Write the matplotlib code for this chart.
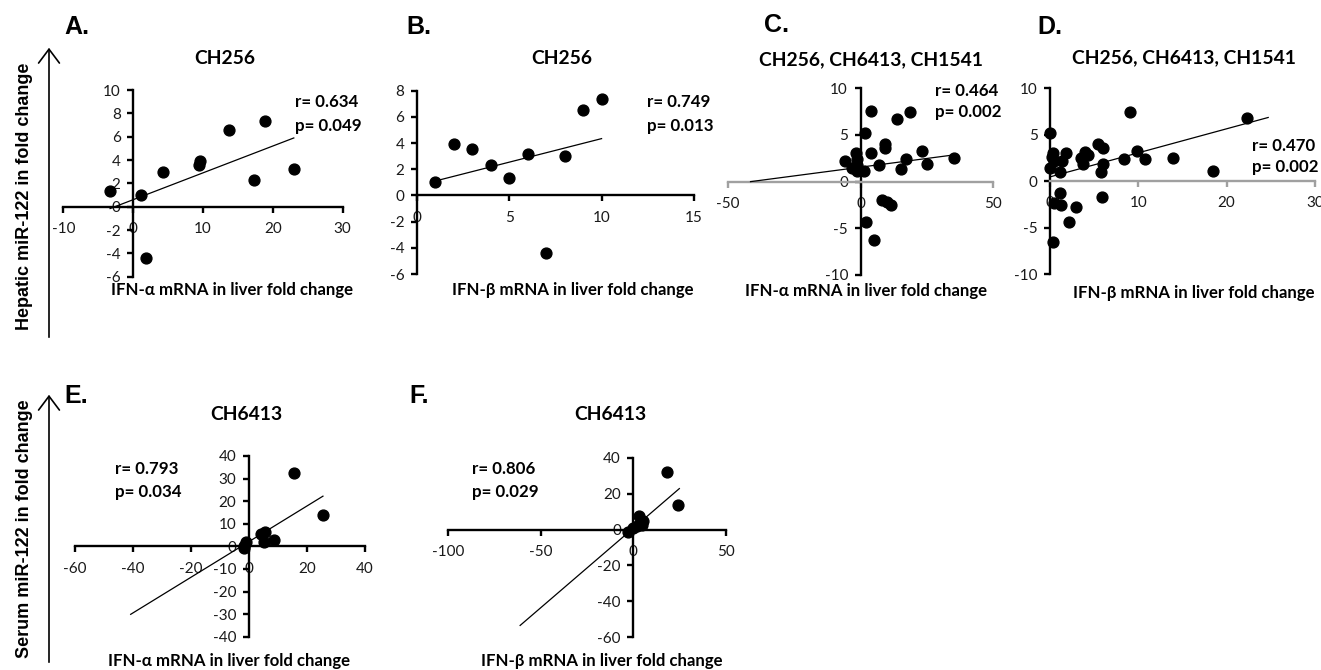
import matplotlib
matplotlib.use("Agg")
import matplotlib.pyplot as plt
import numpy as np

plt.rcParams['axes.unicode_minus'] = False

W, H = 1321, 670

# ---------------- data ----------------
# Panel A: CH256, IFN-alpha vs hepatic miR-122
a_x = [-3.3, 1.1, 1.8, 4.3, 9.4, 9.5, 13.7, 17.3, 18.9, 23.0]
a_y = [1.32, 1.0, -4.37, 3.0, 3.56, 3.9, 6.56, 2.3, 7.38, 3.2]
# Panel B: CH256, IFN-beta vs hepatic miR-122
b_x = [1, 2, 3, 4, 5, 6, 7, 8, 9, 10]
b_y = [1.0, 3.9, 3.56, 2.3, 1.32, 3.2, -4.37, 3.0, 6.56, 7.38]
# Panel C: CH256, CH6413, CH1541, IFN-alpha vs hepatic miR-122
c_x = [3.8, 13.6, 18.8, 1.6, 9.4, 9.4, 4.1, -1.6, -6.0, -1.5, -1.4, 23.2, 17.3,
       35.1, 25.1, 15.3, 7.0, -3.1, -1.3, 1.3, 8.2, 9.8, 11.5, 1.9, 5.0]
c_y = [7.58, 6.69, 7.47, 5.19, 4.04, 3.58, 3.11, 3.11, 2.22, 2.4, 1.8, 3.29, 2.4,
       2.5, 1.9, 1.39, 1.76, 1.43, 1.18, 1.11, -1.96, -2.2, -2.5, -4.29, -6.3]
# Panel D: CH256, CH6413, CH1541, IFN-beta vs hepatic miR-122
d_x = [9.0, 0.0, 5.4, 6.0, 4.0, 4.3, 1.8, 0.3, 9.8, 3.5, 3.7, 1.4, 0.4, 8.4, 10.8,
       13.9, 6.0, 5.8, 0.0, 1.1, 18.4, 22.3, 1.1, 5.9, 0.4, 1.2, 2.9, 2.1, 0.3, 0.2]
d_y = [7.44, 5.14, 3.95, 3.52, 3.16, 2.8, 2.98, 2.98, 3.23, 2.44, 1.83, 2.19, 2.19,
       2.34, 2.34, 2.44, 1.83, 1.0, 1.37, 1.0, 1.11, 6.75, -1.33, -1.69, -2.4,
       -2.59, -2.77, -4.38, -6.54, 2.6]
# Panel E: CH6413, IFN-alpha vs serum miR-122
e_x = [15.4, 25.4, 5.4, 4.0, 8.6, 5.1, -1.1, -1.7, -1.7]
e_y = [32.4, 13.7, 6.2, 5.4, 2.9, 1.8, 2.0, 0.3, -0.7]
# Panel F: CH6413, IFN-beta vs serum miR-122
f_x = [18.3, 24.3, 3.2, 5.4, 4.5, 1.8, 0.0, -3.2]
f_y = [31.9, 13.4, 7.4, 4.6, 2.8, 1.8, 0.9, -1.3]

# trend lines: [x_start, x_end], slope, intercept
trend_range = {'A': [-3.3, 23.0], 'B': [1, 10], 'C': [-41.4, 35.1],
               'D': [0.0, 24.7], 'E': [-40.8, 25.5], 'F': [-61.2, 24.8]}
trend_slope = {'A': 0.23, 'B': 0.36, 'C': 0.0374, 'D': 0.259, 'E': 0.789, 'F': 0.886}
trend_icpt = {'A': 0.6, 'B': 0.74, 'C': 1.55, 'D': 0.46, 'E': 2.1, 'F': 0.83}

titles = {'A': 'CH256', 'B': 'CH256', 'C': 'CH256, CH6413, CH1541',
          'D': 'CH256, CH6413, CH1541', 'E': 'CH6413', 'F': 'CH6413'}
xlabels = {'A': 'IFN-α mRNA in liver fold change', 'B': 'IFN-β mRNA in liver fold change',
           'C': 'IFN-α mRNA in liver fold change', 'D': 'IFN-β mRNA in liver fold change',
           'E': 'IFN-α mRNA in liver fold change', 'F': 'IFN-β mRNA in liver fold change'}
stats_r = {'A': '0.634', 'B': '0.749', 'C': '0.464', 'D': '0.470', 'E': '0.793', 'F': '0.806'}
stats_p = {'A': '0.049', 'B': '0.013', 'C': '0.002', 'D': '0.002', 'E': '0.034', 'F': '0.029'}

xticks = {'A': [-10, 0, 10, 20, 30], 'B': [0, 5, 10, 15], 'C': [-50, 0, 50],
          'D': [0, 10, 20, 30], 'E': [-60, -40, -20, 0, 20, 40], 'F': [-100, -50, 0, 50]}
yticks = {'A': list(range(-6, 11, 2)), 'B': list(range(-6, 9, 2)), 'C': [-10, -5, 0, 5, 10],
          'D': [-10, -5, 0, 5, 10], 'E': list(range(-40, 41, 10)), 'F': [-60, -40, -20, 0, 20, 40]}

data = {'A': (a_x, a_y), 'B': (b_x, b_y), 'C': (c_x, c_y),
        'D': (d_x, d_y), 'E': (e_x, e_y), 'F': (f_x, f_y)}

# ---------------- layout (pixels) ----------------
# left, right, top, bottom of the axis ranges
box = {'A': (63.3, 342.7, 90.0, 276.7), 'B': (416.7, 694.0, 90.7, 274.0),
       'C': (727.7, 993.3, 88.3, 275.0), 'D': (1050.0, 1315.0, 88.3, 274.0),
       'E': (75.0, 365.0, 456.0, 636.7), 'F': (448.3, 726.0, 457.7, 637.3)}
title_pos = {'A': (225, 58), 'B': (562, 58), 'C': (871, 60), 'D': (1184, 58),
             'E': (246, 415), 'F': (610, 415)}
xlabel_pos = {'A': (232, 290), 'B': (573, 290), 'C': (866, 291), 'D': (1194, 293),
              'E': (229, 661), 'F': (602, 661)}
stat_pos = {'A': (295, 102, 126), 'B': (647, 102, 126), 'C': (935, 91, 112),
            'D': (1252, 146, 167), 'E': (115, 469, 492), 'F': (472, 469, 492)}
letter_pos = {'A': (64, 34), 'B': (406, 34), 'C': (764, 32), 'D': (1037, 34),
              'E': (64, 403), 'F': (409, 403)}
gray_xaxis = {'C', 'D'}

CAL = ['Lato', 'Open Sans', 'DejaVu Sans']
ARIAL = ['Liberation Sans', 'DejaVu Sans']

fig = plt.figure(figsize=(W / 100, H / 100), dpi=100)


def ftext(x, y, s, **kw):
    fig.text(x / W, 1 - y / H, s, **kw)


for key in ['A', 'B', 'C', 'D', 'E', 'F']:
    l, r, t, b = box[key]
    ax = fig.add_axes([l / W, 1 - b / H, (r - l) / W, (b - t) / H])
    xt, yt = xticks[key], yticks[key]
    ax.set_xlim(xt[0], xt[-1])
    ax.set_ylim(yt[0], yt[-1])
    ax.patch.set_visible(False)
    for s in ['top', 'right']:
        ax.spines[s].set_visible(False)
    ax.spines['left'].set_position(('data', 0))
    ax.spines['bottom'].set_position(('data', 0))
    ax.spines['left'].set_linewidth(1.7)
    ax.spines['bottom'].set_linewidth(1.7)
    xcol = '#a0a0a0' if key in gray_xaxis else 'black'
    ax.spines['bottom'].set_color(xcol)
    ax.set_xticks(xt)
    ax.set_xticklabels([str(v) for v in xt])
    ax.set_yticks(yt)
    ax.set_yticklabels([str(v) for v in yt])
    ax.tick_params(axis='x', direction='out', length=4, width=1.7, color=xcol, pad=7)
    ax.tick_params(axis='y', direction='out', length=4, width=1.7, color='black', pad=5)
    for lab in ax.get_xticklabels() + ax.get_yticklabels():
        lab.set_family(CAL)
        lab.set_fontsize(11)
        lab.set_color('#1a1a1a')
    xs, ys = data[key]
    ax.plot(xs, ys, 'o', color='black', ms=7.8, clip_on=False, zorder=5)
    tx = np.array(trend_range[key], dtype=float)
    ax.plot(tx, trend_slope[key] * tx + trend_icpt[key], color='black', lw=0.9,
            clip_on=False, zorder=4)

    ftext(*title_pos[key], titles[key], family=CAL, fontweight='bold', fontsize=13.9,
          ha='center', va='center')
    ftext(*xlabel_pos[key], xlabels[key], family=CAL, fontweight='bold', fontsize=12.1,
          ha='center', va='center')
    sx, sy1, sy2 = stat_pos[key]
    ftext(sx, sy1, 'r= ' + stats_r[key], family=CAL, fontweight='bold', fontsize=12.2,
          ha='left', va='center')
    ftext(sx, sy2, 'p= ' + stats_p[key], family=CAL, fontweight='bold', fontsize=12.2,
          ha='left', va='center')
    lx, ly = letter_pos[key]
    ftext(lx, ly, key + '.', family=ARIAL, fontweight='bold', fontsize=18,
          ha='left', va='baseline')

# side labels with arrows
ftext(25, 196, 'Hepatic miR-122 in fold change', family=ARIAL, fontweight='bold',
      fontsize=13, rotation=90, ha='center', va='center')
ftext(25, 529, 'Serum miR-122 in fold change', family=ARIAL, fontweight='bold',
      fontsize=13, rotation=90, ha='center', va='center')
for y0, y1 in [(340, 45), (665, 392)]:
    fig.add_artist(matplotlib.patches.FancyArrowPatch(
        (49 / W, 1 - y0 / H), (49 / W, 1 - y1 / H), transform=fig.transFigure,
        arrowstyle='->,head_length=4,head_width=3', lw=1.2, color='black',
        mutation_scale=2.5))

fig.savefig('out.png', dpi=100, facecolor='white')
